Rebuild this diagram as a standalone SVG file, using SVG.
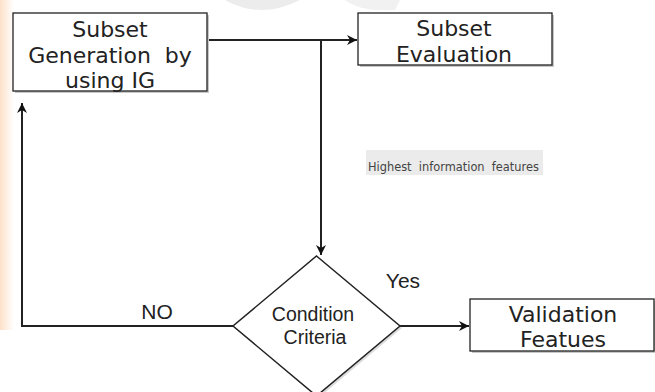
<svg xmlns="http://www.w3.org/2000/svg" width="655" height="392" viewBox="0 0 655 392">
<style>
.box{fill:#fff;stroke:#222;stroke-width:1.3}
.shadow{fill:#c8c8c8}
.t{font-family:"DejaVu Sans",Verdana,sans-serif;font-size:22px;fill:#222;text-anchor:middle}
.a{font-family:"Liberation Sans",Arial,sans-serif;fill:#222;text-anchor:middle}
.line{fill:none;stroke:#222;stroke-width:2}
</style>
<defs>
<marker id="arr" viewBox="0 0 10 10" refX="10" refY="5" markerWidth="10" markerHeight="10" markerUnits="userSpaceOnUse" orient="auto">
<path d="M0,0 L10,5 L0,10 L3,5 Z" fill="#111"/>
</marker>
<linearGradient id="wm" x1="0" y1="0" x2="1" y2="0">
<stop offset="0" stop-color="#fcd9bc" stop-opacity="0.8"/>
<stop offset="1" stop-color="#fcd9bc" stop-opacity="0"/>
</linearGradient>
</defs>
<rect width="655" height="392" fill="#fff"/>
<g id="watermark">
<rect x="0" y="0" width="14" height="330" fill="url(#wm)"/>
<path d="M225,0 Q260,20 300,0 Z" fill="#ececec"/>
<path d="M325,0 L345,0 Q360,12 395,10 L400,0 Z" fill="#f1f1f1"/>
</g>
<g id="connectors">
<polyline class="line" points="207,40 357,40" marker-end="url(#arr)"/>
<polyline class="line" points="321,40 321,255" marker-end="url(#arr)"/>
<polyline class="line" points="233,326 22,326 22,103" marker-end="url(#arr)"/>
<polyline class="line" points="400,326 469,326" marker-end="url(#arr)"/>
<text class="a" x="157" y="319" font-size="21">NO</text>
<text class="a" x="403" y="288" font-size="21">Yes</text>
<rect x="366" y="150" width="177" height="25" fill="#ebebeb"/>
<text x="368" y="171" font-family="'DejaVu Sans',Verdana,sans-serif" font-size="11.4" fill="#444" xml:space="preserve">Highest  information  features</text>
</g>
<g id="node-generation">
<rect class="shadow" x="15" y="15" width="194" height="78"/>
<rect class="box" x="13" y="13" width="194" height="78"/>
<text class="t" x="110" y="37">Subset</text>
<text class="t" x="110" y="63" xml:space="preserve">Generation  by</text>
<text class="t" x="110" y="88">using IG</text>
</g>
<g id="node-evaluation">
<rect class="shadow" x="360" y="15" width="194" height="52"/>
<rect class="box" x="358" y="13" width="194" height="52"/>
<text class="t" x="454" y="36">Subset</text>
<text class="t" x="454" y="62">Evaluation</text>
</g>
<g id="node-condition">
<polygon points="318.5,258 402,328 318.5,398 235,328" fill="#ddd"/>
<polygon points="316.5,256 400,326 316.5,396 233,326" fill="#fff" stroke="#222" stroke-width="1.5"/>
<text class="a" x="313" y="321" font-size="19.5">Condition</text>
<text class="a" x="315" y="344" font-size="19.5">Criteria</text>
</g>
<g id="node-validation">
<rect class="shadow" x="472" y="301" width="184" height="52"/>
<rect class="box" x="470" y="299" width="184" height="52"/>
<text class="t" x="563" y="322">Validation</text>
<text class="t" x="563" y="347">Featues</text>
</g>
</svg>
